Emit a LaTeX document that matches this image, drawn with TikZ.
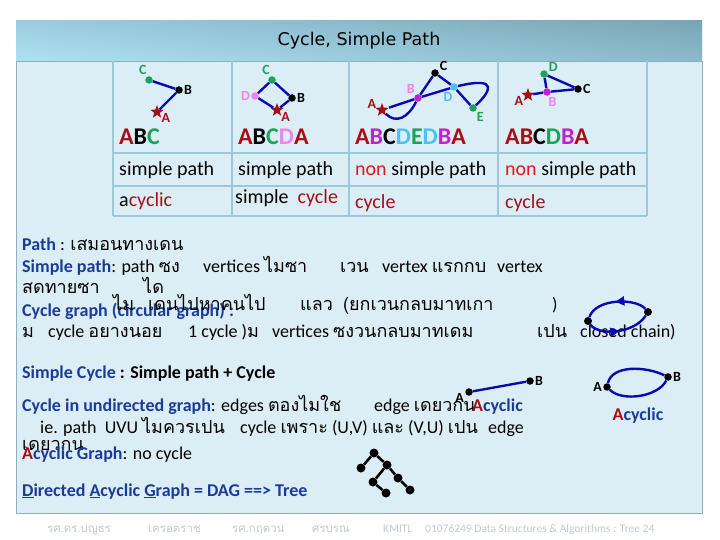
\documentclass[tikz,border=0pt]{standalone}
\usepackage{fontspec}
\setmainfont{Carlito}
\newfontfamily\thaifont[Script=Thai]{Loma}
\newfontfamily\titlefont{DejaVu Sans}
\usetikzlibrary{shapes.geometric, arrows.meta, decorations.markings}

\definecolor{kblue}{HTML}{1B3B9B}
\definecolor{kred}{HTML}{A50F15}
\definecolor{nonred}{HTML}{E3171A}
\definecolor{kgreen}{HTML}{1AA35A}
\definecolor{kpink}{HTML}{EE82EE}
\definecolor{kmag}{HTML}{C31FD0}
\definecolor{kcyan}{HTML}{46C3EF}
\definecolor{edgeblue}{HTML}{0A0AB4}
\definecolor{bodyfill}{HTML}{DCEEF5}
\definecolor{gridline}{HTML}{9CC8D8}
\definecolor{frameline}{HTML}{8DAFC0}
\definecolor{bartop}{HTML}{86B4C6}
\definecolor{barbot}{HTML}{AEE2F3}
\definecolor{bardark}{HTML}{6F9AAB}
\definecolor{footgray}{HTML}{C2CACF}

\newcommand{\tht}[1]{{\thaifont #1}}

\tikzset{
  edge/.style={draw=edgeblue, line width=2.4pt},
  vtx/.style={circle, fill=#1, inner sep=0pt, minimum size=7.5pt},
  vtx/.default=black,
  vstar/.style={star, star points=5, star point ratio=2.4, fill=kred, inner sep=0pt, minimum size=14pt},
  vlbl/.style={font=\fontsize{14}{14}\selectfont\bfseries, inner sep=1pt},
  word/.style={anchor=base west, inner sep=0pt, font=\fontsize{18}{20}\selectfont},
  cell/.style={anchor=base west, inner sep=0pt, font=\fontsize{20}{22}\selectfont},
  seq/.style={anchor=base west, inner sep=0pt, font=\fontsize{24}{26}\selectfont\bfseries},
  foot/.style={anchor=base west, inner sep=0pt, text=footgray, font=\fontsize{11.5}{12}\selectfont},
  grid/.style={draw=gridline, line width=2pt},
  mid arrow/.style={postaction={decorate}, decoration={markings,
    mark=at position 0.5 with {\arrow{Triangle[length=9pt,width=9pt,color=edgeblue]}}}}
}

\begin{document}
\begin{tikzpicture}[x=1pt, y=-1pt]
  \useasboundingbox (0,0) rectangle (720,540);
  % frame and title bar
  \filldraw[fill=bodyfill, draw=frameline] (16,61) rectangle (702,513);
  \shade[top color=bartop, bottom color=barbot] (16,21) rectangle (702,61);
  \shade[left color=barbot, right color=bardark, opacity=0.55] (16,21) rectangle (702,61);
  \node[font=\titlefont\fontsize{17.5}{19}\selectfont] (ttl) at (359,41) {Cycle, Simple Path};
  % table
  \foreach \x in {113,232,349,498,647} \draw[grid] (\x,61) -- (\x,216);
  \foreach \y in {153,186,216} \draw[grid] (113,\y) -- (647,\y);

  % ABC
  \node[vtx=kgreen, label={[vlbl,text=kgreen]110:C}] (c1) at (149,80) {};
  \node[vtx, label={[vlbl]0:B}] (b1) at (179,90) {};
  \node[vstar, label={[vlbl,text=kred]-10:A}] (a1) at (157,112) {};
  \draw[edge] (c1) -- (b1) -- (a1);
  % ABCDA
  \node[vtx=kgreen, label={[vlbl,text=kgreen]105:C}] (c2) at (272,80) {};
  \node[vtx, label={[vlbl]0:B}] (b2) at (292,98) {};
  \node[vstar, label={[vlbl,text=kred]-15:A}] (a2) at (277,110) {};
  \node[vtx=kpink, label={[vlbl,text=kpink]180:D}] (d2) at (255,96) {};
  \draw[edge] (d2) -- (c2) -- (b2) -- (a2) -- (d2);
  % ABCDEDBA
  \node[vtx, label={[vlbl]20:C}] (c3) at (435,73) {};
  \node[vtx=kmag, label={[vlbl,text=kpink]120:B}] (b3) at (418,98) {};
  \node[vtx=kcyan, label={[vlbl,text=kcyan]-95:D}] (d3) at (454,87) {};
  \node[vtx=kgreen, label={[vlbl,text=kgreen]-45:E}] (e3) at (473,108) {};
  \node[vstar, label={[vlbl,text=kred]175:A}] (a3) at (382,110) {};
  \draw[edge] (a3) .. controls (396,124) and (408,118) .. (b3) -- (c3) -- (d3) -- (e3);
  \draw[edge] (e3) .. controls (490,92) and (500,76) .. (d3);
  \draw[edge] (d3) -- (b3) -- (a3);
  % ABCDBA
  \node[vtx=kgreen, label={[vlbl,text=kgreen]20:D}] (d4) at (544,74) {};
  \node[vtx, label={[vlbl]0:C}] (c4) at (578,89) {};
  \node[vtx=kmag, label={[vlbl,text=kpink]-85:B}] (b4) at (547,92) {};
  \node[vstar, label={[vlbl,text=kred]185:A}] (a4) at (528,95) {};
  \draw[edge] (a4) -- (b4) -- (c4) -- (d4) -- (b4);

  \node[seq] (p1) at (119,145) {\textcolor{kred}{A}B\textcolor{kgreen}{C}};
  \node[seq] (p2) at (238,145) {\textcolor{kred}{A}B\textcolor{kgreen}{C}\textcolor{kpink}{D}\textcolor{kred}{A}};
  \node[seq] (p3) at (355,145) {\textcolor{kred}{A}\textcolor{kmag}{B}C\textcolor{kcyan}{D}\textcolor{kgreen}{E}\textcolor{kcyan}{D}\textcolor{kmag}{B}\textcolor{kred}{A}};
  \node[seq] (p4) at (505,145) {\textcolor{kred}{AB}C\textcolor{kgreen}{D}\textcolor{kmag}{B}\textcolor{kred}{A}};

  \node[cell] (s1) at (119,176) {simple path};
  \node[cell] (s2) at (238,176) {simple path};
  \node[cell] (s3) at (355,176) {\textcolor{nonred}{non} simple path};
  \node[cell] (s4) at (505,176) {\textcolor{nonred}{non} simple path};
  \node[cell] (y1) at (119,207) {a\textcolor{kred}{cyclic}};
  \node[cell] (y2) at (235,204) {simple\ \ \textcolor{kred}{cycle}};
  \node[cell] (y3) at (355,208) {\textcolor{kred}{cycle}};
  \node[cell] (y4) at (505,208) {\textcolor{kred}{cycle}};

  % definitions
  \node[word] (l1) at (22,250) {\textcolor{kblue}{\bfseries Path} : \tht{เสมอนทางเดน}};
  \node[word] (l2a) at (22,272) {\textcolor{kblue}{\bfseries Simple path}: path \tht{ซง}};
  \node[word] (l2b) at (203,272) {vertices \tht{ไมซา}};
  \node[word] (l2c) at (340,272) {\tht{เวน}};
  \node[word] (l2d) at (382,272) {vertex \tht{แรกกบ}};
  \node[word] (l2e) at (497,272) {vertex};
  \node[word] (l3a) at (22,293) {\tht{สดทายซา}};
  \node[word] (l3b) at (143,293) {\tht{ได}};
  \node[word] (l4a) at (22,316) {\textcolor{kblue}{\bfseries Cycle graph (circular graph) :}};
  \node[word] (l4b) at (113,310) {\tht{ไม}};
  \node[word] (l4c) at (148,310) {\tht{เดนไปหาคนไป}};
  \node[word] (l4d) at (300,310) {\tht{แลว}};
  \node[word] (l4e) at (343,310) {\tht{(ยกเวนกลบมาทเกา}};
  \node[word] (l4f) at (552,310) {)};
  \node[word] (l5a) at (22,337) {\tht{ม}};
  \node[word] (l5b) at (48,337) {cycle \tht{อยางนอย}};
  \node[word] (l5c) at (188,337) {1 cycle )\tht{ม}};
  \node[word] (l5d) at (272,337) {vertices \tht{ซงวนกลบมาทเดม}};
  \node[word] (l5e) at (537,337) {\tht{เปน}};
  \node[word] (l5f) at (580,337) {closed chain)};
  % closed chain
  \node[vtx, minimum size=8pt] (cl) at (588,321) {};
  \node[vtx, minimum size=8pt] (cr) at (648,312) {};
  \draw[edge, mid arrow] (cr) .. controls (636,298) and (596,298) .. (cl);
  \draw[edge, mid arrow] (cl) .. controls (598,336) and (634,334) .. (cr);

  \node[word] (l6) at (22,378) {\textcolor{kblue}{\bfseries Simple Cycle} {\bfseries : Simple path + Cycle}};
  \node[word] (l7a) at (22,411) {\textcolor{kblue}{\bfseries Cycle in undirected graph}: edges \tht{ตองไมใช}};
  \node[word] (l7b) at (374,411) {edge \tht{เดยวกน}};
  \node[word] (l7c) at (472,411) {\bfseries\textcolor{kred}{A}\textcolor{kblue}{cyclic}};
  \node[word] (l8a) at (40,433) {ie. path\ \ UVU \tht{ไมควรเปน}};
  \node[word] (l8b) at (240,433) {cycle \tht{เพราะ} (U,V) \tht{และ} (V,U) \tht{เปน}};
  \node[word] (l8c) at (488,433) {edge};
  \node[word] (l9a) at (22,450) {\tht{เดยวกน}};
  \node[word] (l9b) at (22,459) {\bfseries\textcolor{kred}{A}\textcolor{kblue}{cyclic Graph}\mdseries: no cycle};
  \node[word] (l10) at (22,496) {\bfseries\color{kblue}\underline{D}irected \underline{A}cyclic \underline{G}raph = DAG ==> Tree};

  % A-B edge and A-B loop
  \node[vtx, label={[vlbl]185:A}] (ua) at (469,392) {};
  \node[vtx, label={[vlbl]0:B}] (ub) at (530,381) {};
  \draw[edge] (ua) -- (ub);
  \node[vtx, label={[vlbl]180:A}] (wa) at (607,387) {};
  \node[vtx, label={[vlbl]0:B}] (wb) at (668,377) {};
  \draw[edge] (wa) .. controls (612,365) and (645,366) .. (wb);
  \draw[edge] (wb) .. controls (658,397) and (622,402) .. (wa);
  \node[font=\fontsize{18}{20}\selectfont\bfseries] (acy) at (638,416) {\textcolor{kred}{A}\textcolor{kblue}{cyclic}};

  % tree
  \foreach \n/\p in {t1/{374,453}, t2/{361,468}, t3/{387,465}, t4/{373,482}, t5/{398,478}, t6/{386,493}, t7/{410,490}}
    \node[vtx, minimum size=9pt] (\n) at (\p) {};
  \foreach \u/\v in {t1/t2, t1/t3, t3/t4, t3/t5, t4/t6, t5/t7}
    \draw[line width=2.6pt] (\u) -- (\v);

  % footer
  \node[foot] (f1) at (47,532) {\tht{รศ.ดร.บญธร}};
  \node[foot] (f2) at (148,532) {\tht{เครอตราช}};
  \node[foot] (f3) at (232,532) {\tht{รศ.กฤตวน}};
  \node[foot] (f4) at (312,532) {\tht{ศรบรณ}};
  \node[foot] (f5) at (383,532) {KMITL};
  \node[foot] (f6) at (425,532) {01076249 Data Structures \& Algorithms : Tree 24};
\end{tikzpicture}
\end{document}
